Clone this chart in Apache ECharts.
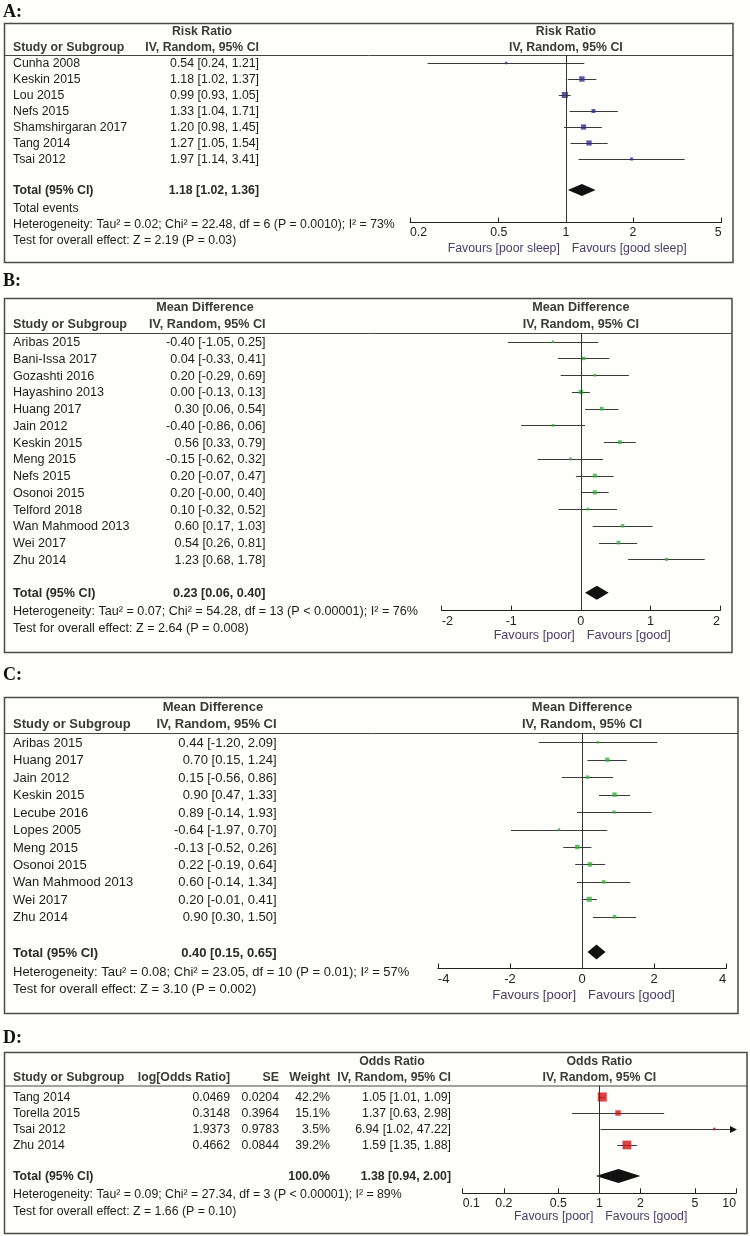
<!DOCTYPE html>
<html>
<head>
<meta charset="utf-8">
<script src="https://cdn.jsdelivr.net/npm/echarts@6/dist/echarts.min.js"></script>
<style>
html, body { margin: 0; padding: 0; background: #fefefb; }
#main { width: 750px; height: 1236px; }
</style>
</head>
<body>
<div id="main"></div>
<script>
// ---- A: risk ratio ----
const studiesA = ['Cunha 2008', 'Keskin 2015', 'Lou 2015', 'Nefs 2015', 'Shamshirgaran 2017', 'Tang 2014', 'Tsai 2012'];
const estA = [0.54, 1.18, 0.99, 1.33, 1.20, 1.27, 1.97];
const lowA = [0.24, 1.02, 0.93, 1.04, 0.98, 1.05, 1.14];
const highA = [1.21, 1.37, 1.05, 1.71, 1.45, 1.54, 3.41];
const weightA = [3, 15, 19, 8, 14, 14, 4.5];
const totalA = [1.18, 1.02, 1.36];
const ticksA = [0.2, 0.5, 1, 2, 5];
const hetA = 'Heterogeneity: Tau\u00b2 = 0.02; Chi\u00b2 = 22.48, df = 6 (P = 0.0010); I\u00b2 = 73%';
const testA = 'Test for overall effect: Z = 2.19 (P = 0.03)';

// ---- B: mean difference ----
const studiesB = ['Aribas 2015', 'Bani-Issa 2017', 'Gozashti 2016', 'Hayashino 2013', 'Huang 2017', 'Jain 2012', 'Keskin 2015',
  'Meng 2015', 'Nefs 2015', 'Osonoi 2015', 'Telford 2018', 'Wan Mahmood 2013', 'Wei 2017', 'Zhu 2014'];
const estB = [-0.40, 0.04, 0.20, 0.00, 0.30, -0.40, 0.56, -0.15, 0.20, 0.20, 0.10, 0.60, 0.54, 1.23];
const lowB = [-1.05, -0.33, -0.29, -0.13, 0.06, -0.86, 0.33, -0.62, -0.07, -0.00, -0.32, 0.17, 0.26, 0.68];
const highB = [0.25, 0.41, 0.69, 0.13, 0.54, 0.06, 0.79, 0.32, 0.47, 0.40, 0.52, 1.03, 0.81, 1.78];
const weightB = [3, 6, 4, 9, 7, 4, 7, 4, 8, 9, 4, 6, 7, 5];
const totalB = [0.23, 0.06, 0.40];
const ticksB = [-2, -1, 0, 1, 2];
const hetB = 'Heterogeneity: Tau\u00b2 = 0.07; Chi\u00b2 = 54.28, df = 13 (P < 0.00001); I\u00b2 = 76%';
const testB = 'Test for overall effect: Z = 2.64 (P = 0.008)';

// ---- C: mean difference ----
const studiesC = ['Aribas 2015', 'Huang 2017', 'Jain 2012', 'Keskin 2015', 'Lecube 2016', 'Lopes 2005', 'Meng 2015',
  'Osonoi 2015', 'Wan Mahmood 2013', 'Wei 2017', 'Zhu 2014'];
const estC = [0.44, 0.70, 0.15, 0.90, 0.89, -0.64, -0.13, 0.22, 0.60, 0.20, 0.90];
const lowC = [-1.20, 0.15, -0.56, 0.47, -0.14, -1.97, -0.52, -0.19, -0.14, -0.01, 0.30];
const highC = [2.09, 1.24, 0.86, 1.33, 1.93, 0.70, 0.26, 0.64, 1.34, 0.41, 1.50];
const weightC = [3, 9, 6, 10, 5, 3, 10, 10, 6, 13, 7];
const totalC = [0.40, 0.15, 0.65];
const ticksC = [-4, -2, 0, 2, 4];
const hetC = 'Heterogeneity: Tau\u00b2 = 0.08; Chi\u00b2 = 23.05, df = 10 (P = 0.01); I\u00b2 = 57%';
const testC = 'Test for overall effect: Z = 3.10 (P = 0.002)';

// ---- D: odds ratio ----
const studiesD = ['Tang 2014', 'Torella 2015', 'Tsai 2012', 'Zhu 2014'];
const logOrD = [0.0469, 0.3148, 1.9373, 0.4662];
const seD = [0.0204, 0.3964, 0.9783, 0.0844];
const weightD = [42.2, 15.1, 3.5, 39.2];
const estD = [1.05, 1.37, 6.94, 1.59];
const lowD = [1.01, 0.63, 1.02, 1.35];
const highD = [1.09, 2.98, 47.22, 1.88];
const totalD = [1.38, 0.94, 2.00];
const ticksD = [0.1, 0.2, 0.5, 1, 2, 5, 10];
const hetD = 'Heterogeneity: Tau\u00b2 = 0.09; Chi\u00b2 = 27.34, df = 3 (P < 0.00001); I\u00b2 = 89%';
const testD = 'Test for overall effect: Z = 1.66 (P = 0.10)';

const FONT = "'Liberation Sans', Arial, Helvetica, sans-serif";
const SERIF = "'Liberation Serif', 'Times New Roman', serif";

let myChart;
const grids = [], xAxes = [], yAxes = [], series = [], elements = [];

function fmt(v) {
  return (Object.is(v, -0) ? '-' : '') + v.toFixed(2);
}
function ciText(e, l, h) {
  return fmt(e) + ' [' + fmt(l) + ', ' + fmt(h) + ']';
}

function text(x, y, s, o) {
  o = o || {};
  const al = o.align || 'left';
  elements.push({
    type: 'text', x: x, y: y, silent: true,
    style: {
      text: s, fill: o.color || '#1c1c1c',
      font: (o.bold ? 'bold ' : '') + (o.size || 12) + 'px ' + (o.family || FONT),
      textAlign: al, align: al, textVerticalAlign: 'middle', verticalAlign: 'middle'
    }
  });
}
function line(x1, y1, x2, y2, color, w) {
  elements.push({ type: 'line', silent: true, shape: { x1: x1, y1: y1, x2: x2, y2: y2 },
    style: { stroke: color || '#444', lineWidth: w || 1 } });
}

// draws one CI whisker, arrows when it runs past the axis
function ciRender(params, api) {
  const y = api.value(2);
  const p1 = api.coord([api.value(0), y]);
  const p2 = api.coord([api.value(1), y]);
  const cs = params.coordSys;
  const x1 = Math.max(p1[0], cs.x), x2 = Math.min(p2[0], cs.x + cs.width);
  const yy = Math.round(p1[1]) + 0.5;
  const kids = [{ type: 'line', shape: { x1: x1, y1: yy, x2: x2, y2: yy }, style: { stroke: '#3a3a3a', lineWidth: 1 } }];
  if (p2[0] > cs.x + cs.width) {
    kids.push({ type: 'polygon', shape: { points: [[x2 - 6, yy - 3.5], [x2 + 1, yy], [x2 - 6, yy + 3.5]] }, style: { fill: '#111' } });
  }
  if (p1[0] < cs.x) {
    kids.push({ type: 'polygon', shape: { points: [[x1 + 6, yy - 3.5], [x1 - 1, yy], [x1 + 6, yy + 3.5]] }, style: { fill: '#111' } });
  }
  return { type: 'group', children: kids };
}

function addPanel(p) {
  const gi = grids.length;
  const fs = p.fs;
  const tx = p.log ? (v => Math.log10(v)) : (v => v);
  const xmin = tx(p.ticks[0]), xmax = tx(p.ticks[p.ticks.length - 1]);
  const yMin = (p.headY - p.row0) / p.rowH, yMax = (p.axisY - p.row0) / p.rowH;
  const totPos = (p.totalY - p.row0) / p.rowH;

  grids.push({ left: p.left, top: p.headY, width: p.right - p.left, height: p.axisY - p.headY });

  const xa = {
    gridIndex: gi, type: 'value', min: xmin, max: xmax,
    axisLine: { show: true, onZero: false, lineStyle: { color: '#222', width: 1 } },
    axisTick: { show: true, inside: true, length: 5, lineStyle: { color: '#222' } },
    axisLabel: { color: '#222', fontSize: fs, fontFamily: FONT, margin: 4, alignMinLabel: 'left', alignMaxLabel: 'right' },
    splitLine: { show: false }
  };
  if (p.log) {
    const tv = p.ticks.map(tx);
    xa.axisTick.customValues = tv;
    xa.axisLabel.customValues = tv;
    xa.axisLabel.formatter = v => String(Number(Math.pow(10, v).toPrecision(3)));
  } else {
    xa.interval = p.ticks[1] - p.ticks[0];
  }
  xAxes.push(xa);
  yAxes.push({ gridIndex: gi, type: 'value', inverse: true, min: yMin, max: yMax, show: false });

  series.push({
    type: 'custom', xAxisIndex: gi, yAxisIndex: gi, z: 2, silent: true,
    renderItem: ciRender, encode: { x: [0, 1], y: 2 },
    data: p.low.map((l, i) => [tx(l), tx(p.high[i]), i])
  });
  series.push({
    type: 'scatter', xAxisIndex: gi, yAxisIndex: gi, z: 3, silent: true,
    symbol: 'rect', symbolSize: d => Math.max(2, 1.4 * Math.sqrt(d[2])),
    itemStyle: { color: p.color },
    data: p.est.map((e, i) => [tx(e), i, p.weight[i]]),
    markLine: {
      silent: true, symbol: 'none', label: { show: false },
      lineStyle: { color: '#333', type: 'solid', width: 1 },
      data: [{ xAxis: 0 }]
    }
  });
  series.push({
    type: 'custom', xAxisIndex: gi, yAxisIndex: gi, z: 4, silent: true,
    encode: { x: [0, 1, 2], y: 3 },
    data: [[tx(p.total[1]), tx(p.total[0]), tx(p.total[2]), totPos]],
    renderItem: function (params, api) {
      const y = api.value(3);
      const a = api.coord([api.value(0), y]), b = api.coord([api.value(1), y]), c = api.coord([api.value(2), y]);
      return { type: 'polygon', shape: { points: [a, [b[0], b[1] - p.dh], c, [b[0], b[1] + p.dh]] }, style: { fill: '#111' } };
    }
  });

  // frame, header, table text
  elements.push({ type: 'rect', silent: true, shape: { x: 4.5, y: p.boxTop + 0.5, width: p.boxRight - 4.5, height: p.boxBottom - p.boxTop },
    style: { fill: 'none', stroke: '#4a4a4a', lineWidth: 1.5 } });
  line(4.5, p.headY + 0.5, p.boxRight, p.headY + 0.5, '#444', 1);
  text(3, p.labelY, p.label, { bold: true, size: 18, family: SERIF, color: '#111' });

  const hd = { bold: true, align: 'center', color: '#3a3a3a', size: fs };
  const plotCx = (p.left + p.right) / 2;
  text(plotCx, p.head1Y, p.groupTitle, hd);
  text(plotCx, p.head2Y, 'IV, Random, 95% CI', hd);
  text(p.groupCx, p.head1Y, p.groupTitle, hd);
  text(p.valRight, p.head2Y, 'IV, Random, 95% CI', { bold: true, align: 'right', color: '#3a3a3a', size: fs });
  text(13, p.head2Y, 'Study or Subgroup', { bold: true, color: '#3a3a3a', size: fs });

  p.names.forEach((n, i) => {
    const y = p.row0 + i * p.rowH + 1;
    text(13, y, n, { size: fs });
    text(p.valRight, y, ciText(p.est[i], p.low[i], p.high[i]), { align: 'right', size: fs });
  });
  text(13, p.totalY + 1, 'Total (95% CI)', { bold: true, color: '#2a2a2a', size: fs });
  text(p.valRight, p.totalY + 1, ciText(p.total[0], p.total[1], p.total[2]), { bold: true, align: 'right', color: '#2a2a2a', size: fs });
  p.footer.forEach(f => text(13, f[1], f[0], { size: fs }));

  const nullX = p.left + (0 - xmin) / (xmax - xmin) * (p.right - p.left);
  text(nullX - 6, p.favY, p.favL, { align: 'right', color: '#4b3d66', size: fs });
  text(nullX + 6, p.favY, p.favR, { color: '#4b3d66', size: fs });
}

function init() {
  myChart = echarts.init(document.getElementById('main'));

  addPanel({
    label: 'A:', labelY: 12.5, boxTop: 23, boxBottom: 262, boxRight: 733, fs: 12.3,
    headY: 55, head1Y: 31.7, head2Y: 48, row0: 63, rowH: 16, totalY: 190, axisY: 222.5,
    left: 410, right: 721.7, log: true, ticks: ticksA, dh: 6,
    valRight: 259, groupCx: 202, groupTitle: 'Risk Ratio', color: '#2e3192',
    names: studiesA, est: estA, low: lowA, high: highA, weight: weightA, total: totalA,
    footer: [['Total events', 209], [hetA, 225], [testA, 241]],
    favY: 249, favL: 'Favours [poor sleep]', favR: 'Favours [good sleep]'
  });
  addPanel({
    label: 'B:', labelY: 281.5, boxTop: 298, boxBottom: 652, boxRight: 732, fs: 12.6,
    headY: 333, head1Y: 308, head2Y: 325, row0: 341.7, rowH: 16.74, totalY: 592.7, axisY: 610.7,
    left: 441.7, right: 720, log: false, ticks: ticksB, dh: 7,
    valRight: 265.5, groupCx: 205, groupTitle: 'Mean Difference', color: '#34b03c',
    names: studiesB, est: estB, low: lowB, high: highB, weight: weightB, total: totalB,
    footer: [[hetB, 612], [testB, 629]],
    favY: 635.5, favL: 'Favours [poor]', favR: 'Favours [good]'
  });
  addPanel({
    label: 'C:', labelY: 675, boxTop: 697, boxBottom: 1013, boxRight: 738, fs: 13,
    headY: 733, head1Y: 707.3, head2Y: 724.3, row0: 742.3, rowH: 17.44, totalY: 952, axisY: 968.5,
    left: 437.8, right: 726.3, log: false, ticks: ticksC, dh: 7.5,
    valRight: 276.6, groupCx: 213, groupTitle: 'Mean Difference', color: '#34b03c',
    names: studiesC, est: estC, low: lowC, high: highC, weight: weightC, total: totalC,
    footer: [[hetC, 972.3], [testC, 989.3]],
    favY: 995, favL: 'Favours [poor]', favR: 'Favours [good]'
  });
  addPanel({
    label: 'D:', labelY: 1038, boxTop: 1052, boxBottom: 1233, boxRight: 747, fs: 12.3,
    headY: 1085.5, head1Y: 1061.5, head2Y: 1078, row0: 1097, rowH: 16, totalY: 1176, axisY: 1193.3,
    left: 462.7, right: 736, log: true, ticks: ticksD, dh: 7,
    valRight: 451, groupCx: 392, groupTitle: 'Odds Ratio', color: '#cc1616',
    names: studiesD, est: estD, low: lowD, high: highD, weight: weightD, total: totalD,
    footer: [[hetD, 1195], [testD, 1211.7]],
    favY: 1217, favL: 'Favours [poor]', favR: 'Favours [good]'
  });

  // extra columns of panel D
  const hdD = { bold: true, align: 'right', color: '#3a3a3a', size: 12.3 };
  text(230, 1078, 'log[Odds Ratio]', hdD);
  text(279, 1078, 'SE', hdD);
  text(330, 1078, 'Weight', hdD);
  studiesD.forEach((n, i) => {
    const y = 1097 + i * 16 + 1;
    text(230, y, logOrD[i].toFixed(4), { align: 'right', size: 12.3 });
    text(279, y, seD[i].toFixed(4), { align: 'right', size: 12.3 });
    text(330, y, weightD[i].toFixed(1) + '%', { align: 'right', size: 12.3 });
  });
  const wSum = weightD.reduce((a, b) => a + b, 0);
  text(330, 1177, wSum.toFixed(1) + '%', { bold: true, align: 'right', color: '#2a2a2a', size: 12.3 });

  const option = {
    animation: false,
    backgroundColor: '#fefefb',
    grid: grids,
    xAxis: xAxes,
    yAxis: yAxes,
    series: series,
    graphic: { elements: elements }
  };
  myChart.setOption(option);
}

init();
</script>
</body>
</html>
